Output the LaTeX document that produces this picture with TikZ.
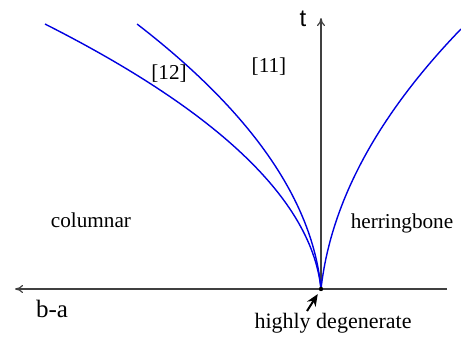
\documentclass[tikz,border=0pt]{standalone}
\usepackage{fontspec}
\setmainfont{Liberation Serif}
\newfontfamily\axisfont{Liberation Sans}
\usepackage{xcolor}
\colorlet{myblue}{blue!88!black}
\colorlet{mygray}{black!75}
\usepackage{tikz}
\usetikzlibrary{arrows.meta}

\begin{document}
\begin{tikzpicture}[x=0.5pt,y=-0.5pt,
    font=\fontsize{10.6}{12}\selectfont,
    axis/.style={draw=mygray,line width=0.6pt},
    branch/.style={myblue,line width=0.7pt}]
      \useasboundingbox (0,0) rectangle (461,337);
      \coordinate (o) at (321,289);
      \coordinate (xend) at (15,289);
      \coordinate (xbeg) at (447,289);
      \coordinate (tend) at (321,18);
      \draw[axis,-{To[length=4pt,width=4pt]}] (xbeg) -- (xend);
      \draw[axis,-{To[length=4pt,width=4pt]}] (o) -- (tend);
      \node (tlab) at (303,19) {\axisfont\fontsize{12}{13}\selectfont t};
      \node (balab) at (52,309) {\fontsize{12.5}{14}\selectfont b-a};

      % phase boundaries meeting at the origin
      \draw[branch] plot[domain=0:2.65,samples=60] ({321-10.54*\x-35.33*\x*\x},{289-100*\x});
      \draw[branch] plot[domain=0:2.65,samples=60] ({321-9.24*\x-22.71*\x*\x},{289-100*\x});
      \draw[branch] plot[domain=0:2.6,samples=60] ({321+11.17*\x+16.41*\x*\x},{289-100*\x});
      \node (ref12) at (169,74) {[12]};
      \node (ref11) at (269,67) {[11]};

      \node (col) at (91,220) {columnar};
      \node (her) at (402,223) {herringbone};

      \fill (o) circle [radius=2.2];
      \node (deg) at (333,323) {\fontsize{11}{12}\selectfont highly degenerate};
      \coordinate (degtail) at (307,311);
      \draw[line width=1pt,-{Stealth[length=6pt,width=5pt]},shorten >=3pt] (degtail) -- (o);
    \end{tikzpicture}
\end{document}
